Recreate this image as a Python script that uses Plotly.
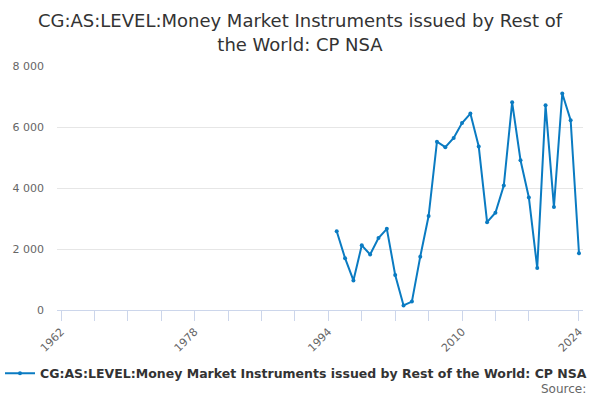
import plotly.graph_objects as go

# annual values
years = list(range(1995, 2025))
values = [2580, 1700, 970, 2120, 1820, 2360, 2660, 1150, 150, 275,
          1750, 3080, 5520, 5340, 5640, 6130, 6440, 5360, 2880, 3190,
          4080, 6810, 4910, 3690, 1380, 6710, 3380, 7100, 6220, 1860]

x_tick_years = list(range(1962, 2019, 4)) + [2024]
x_labelled = [1962, 1978, 1994, 2010, 2024]
x_tick_text = [str(y) if y in x_labelled else "" for y in x_tick_years]
y_ticks = [0, 2000, 4000, 6000, 8000]

series_name = "CG:AS:LEVEL:Money Market Instruments issued by Rest of the World: CP NSA"
title_text = "CG:AS:LEVEL:Money Market Instruments issued by Rest of<br>the World: CP NSA"

fig = go.Figure()

fig.add_trace(go.Scatter(
    x=years,
    y=values,
    mode="lines+markers",
    name=series_name,
    line=dict(color="#0a7bc2", width=2),
    marker=dict(color="#0a7bc2", size=4),
    showlegend=True
))

fig.update_layout(
    width=600,
    height=400,
    paper_bgcolor="white",
    plot_bgcolor="white",
    font=dict(family="DejaVu Sans", color="#666666"),
    separators=". ",
    margin=dict(l=57, r=17, t=66, b=89),
    title=dict(
        text=title_text,
        x=0.5,
        xanchor="center",
        y=0.932,
        yanchor="top",
        font=dict(size=18, color="#333333", family="DejaVu Sans")
    ),
    xaxis=dict(
        range=[1961.52, 2024.48],
        tickmode="array",
        tickvals=x_tick_years,
        ticktext=x_tick_text,
        tickangle=-45,
        showgrid=False,
        zeroline=False,
        showline=True,
        linecolor="#ccd6eb",
        linewidth=1,
        ticks="outside",
        ticklen=10,
        tickcolor="#ccd6eb",
        tickfont=dict(size=11, color="#666666")
    ),
    yaxis=dict(
        range=[0, 8000],
        tickmode="array",
        tickvals=y_ticks,
        tickformat=",d",
        showgrid=True,
        gridcolor="#e6e6e6",
        zeroline=False,
        showline=False,
        ticklabelstandoff=12,
        tickfont=dict(size=11, color="#666666")
    ),
    legend=dict(
        orientation="h",
        x=0.451,
        xanchor="center",
        y=-0.256,
        yanchor="middle",
        font=dict(size=12.5, color="#333333", family="DejaVu Sans", weight="bold")
    ),
    annotations=[dict(
        text="Source:",
        xref="paper",
        yref="paper",
        x=1.009,
        xanchor="right",
        y=-0.325,
        yanchor="middle",
        showarrow=False,
        font=dict(size=12, color="#666666")
    )]
)

fig.write_html("out.html", config={"displayModeBar": False},
               post_script="document.body.style.margin='0';")
